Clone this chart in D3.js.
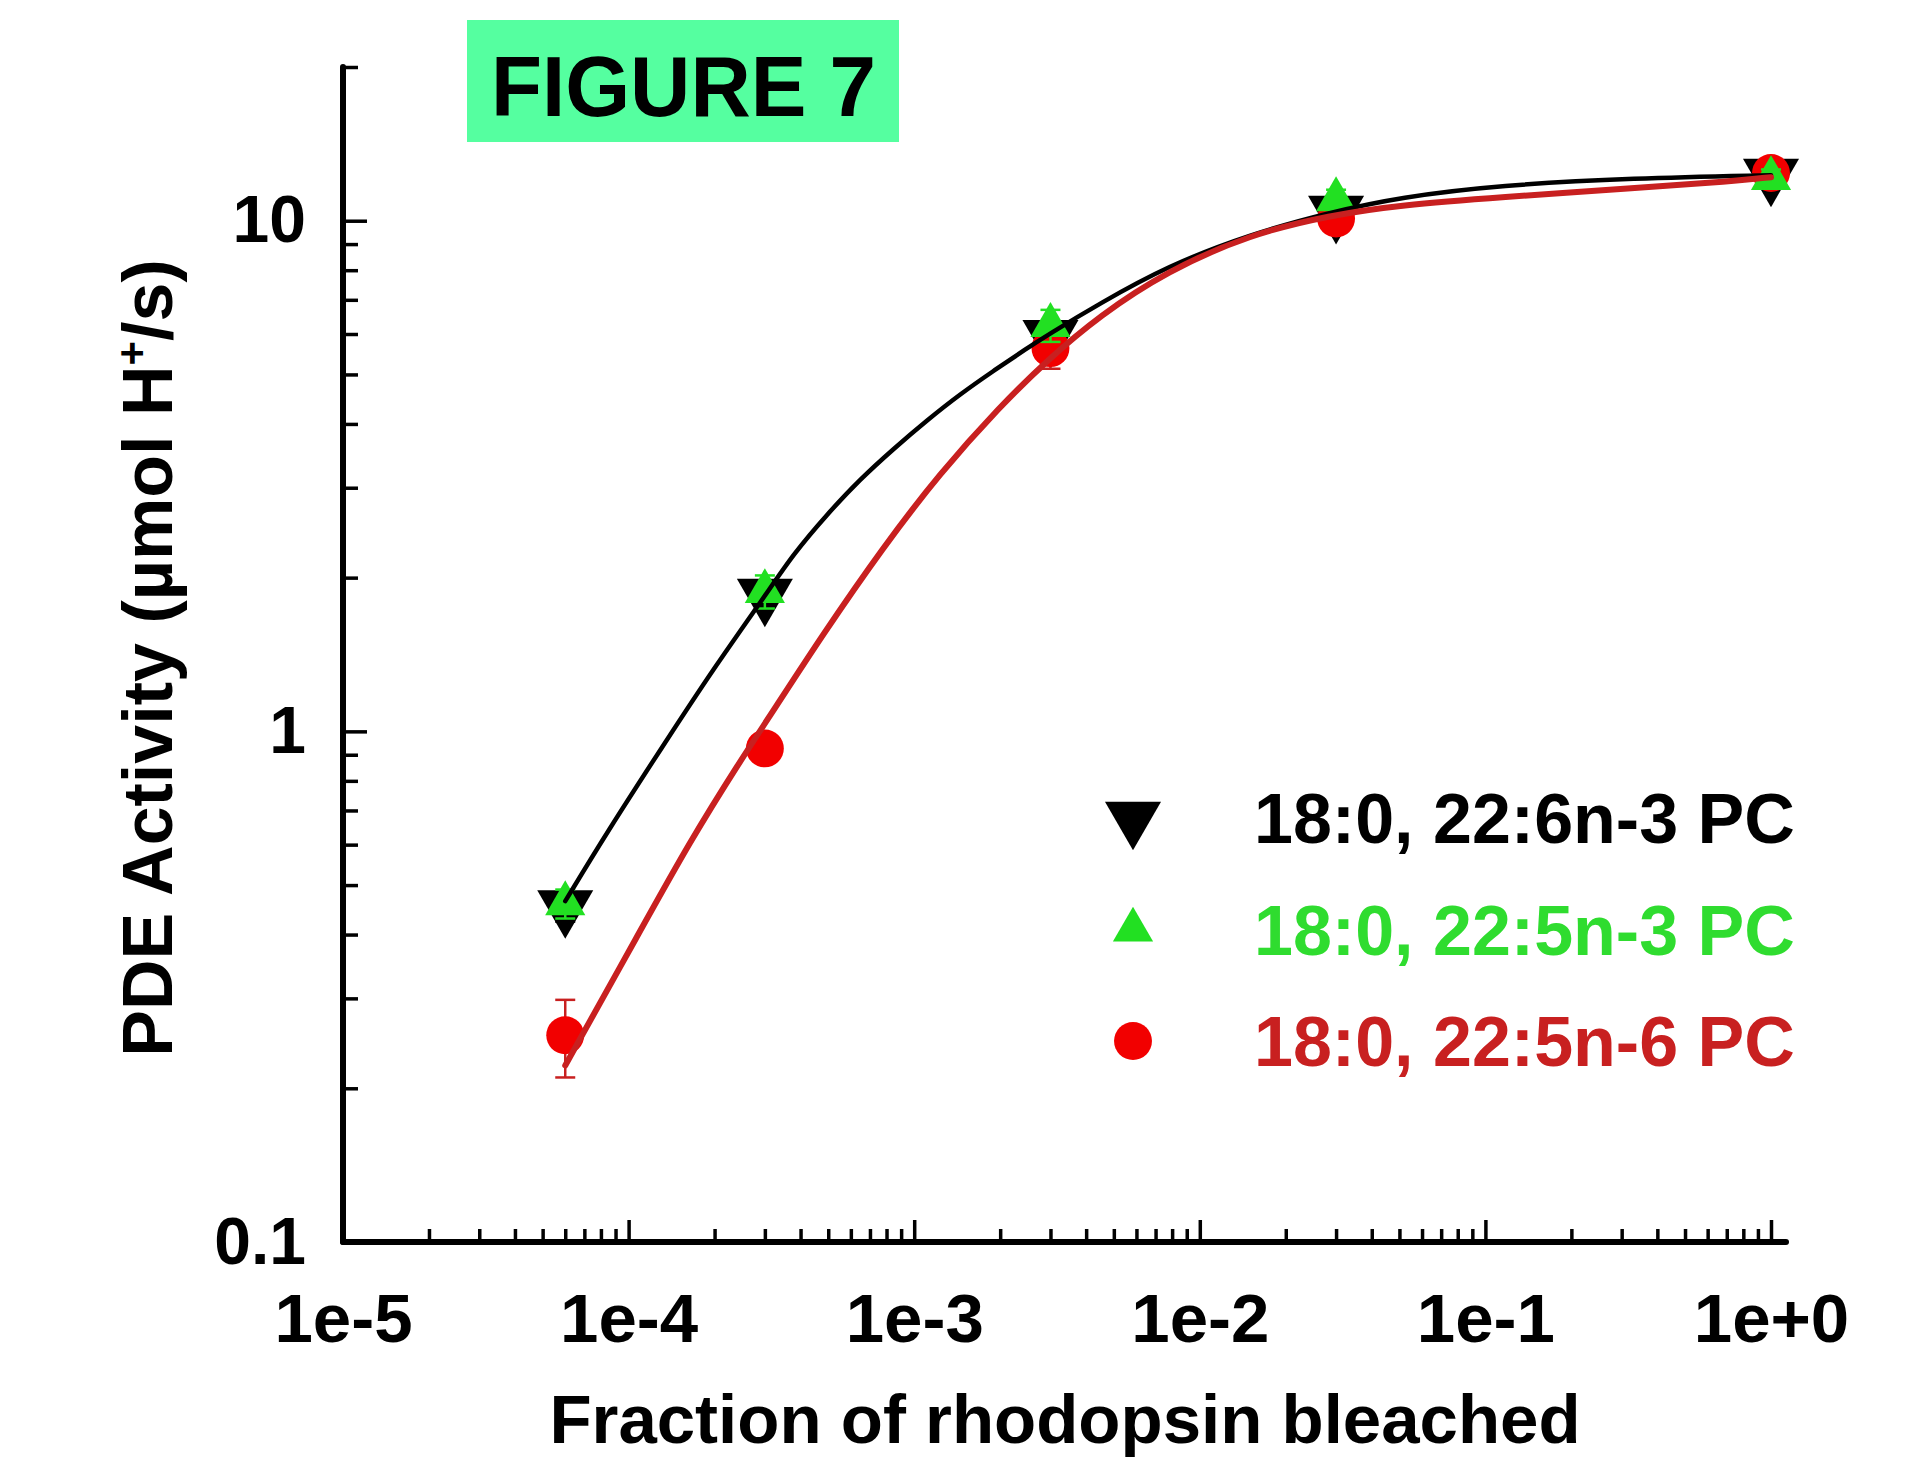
<!DOCTYPE html>
<html>
<head>
<meta charset="utf-8">
<script src="https://cdn.jsdelivr.net/npm/d3@7.9.0/dist/d3.min.js"></script>
<style>
  body { margin: 0; background: #fff; }
  svg { display: block; font-family: "Liberation Sans", Arial, sans-serif; font-weight: bold; }
</style>
</head>
<body>
<svg width="1925" height="1459"></svg>
<script>
// measured points (fraction bleached -> PDE activity)
const bleachFraction = [6e-5, 3e-4, 3e-3, 3e-2, 1];

const pc226n3 = [0.454, 1.85, 5.94, 10.4, 12.3];
const pc226n3Err = [0.03, 0.1, 0.3, 0.4, 0.4];
const pc225n3 = [0.46, 1.88, 6.24, 11.0, 12.1];
const pc225n3Err = [0.03, 0.14, 0.45, 0.5, 0.5];
const pc225n6 = [0.254, 0.926, 5.63, 10.1, 12.4];
const pc225n6Err = [0.044, 0.03, 0.5, 0.4, 0.3];

// fitted curves
const fitX226n3 = [6e-5, 8.39e-5, 1.36e-4, 1.97e-4, 3e-4, 3.764e-4, 4.952e-4, 6.458e-4, 8.427e-4,
  1.109e-3, 1.446e-3, 1.887e-3, 2.483e-3, 2.92e-3, 4.48e-3, 7.67e-3, 1.5e-2, 2.86e-2, 5.02e-2,
  0.1125, 0.329, 1];
const fitY226n3 = [0.465, 0.634, 0.962, 1.32, 1.84, 2.222, 2.661, 3.116, 3.568,
  4.067, 4.572, 5.073, 5.626, 5.967, 6.893, 8.145, 9.41, 10.39, 11.12,
  11.74, 12.12, 12.28];
const fitX225n6 = [6e-5, 1.096e-4, 1.64e-4, 2.455e-4, 3.2e-4, 4.79e-4, 7.78e-4, 1.23e-3, 2e-3, 2.92e-3,
  4.48e-3, 7.67e-3, 1.5e-2, 2.86e-2, 5.02e-2, 0.1125, 0.329, 0.736, 1];
const fitY225n6 = [0.2217, 0.4057, 0.6088, 0.8733, 1.094, 1.549, 2.293, 3.202, 4.331, 5.331,
  6.529, 7.962, 9.41, 10.25, 10.73, 11.12, 11.58, 11.95, 12.17];

// ticks
const xMajor = [1e-5, 1e-4, 1e-3, 1e-2, 1e-1, 1];
const xMajorLabels = ['1e-5', '1e-4', '1e-3', '1e-2', '1e-1', '1e+0'];
const yMajor = [0.1, 1, 10];
const yMajorLabels = ['0.1', '1', '10'];
const minorSteps = [2, 3, 4, 5, 6, 7, 8, 9];

const legendLabels = ['18:0, 22:6n-3 PC', '18:0, 22:5n-3 PC', '18:0, 22:5n-6 PC'];

const black = '#000000';
const green = '#22e022';
const greenText = '#2fdc2f';
const red = '#f20000';
const darkRed = '#c82020';

let svg = d3.select('svg');

let x = d3.scaleLog().domain([1e-5, 1]).range([343, 1771]);
let y = d3.scaleLog().domain([0.1, 20]).range([1242, 67]);

let xMinor = [];
xMajor.slice(0, -1).forEach((d) => minorSteps.forEach((m) => xMinor.push(d * m)));
let yMinor = [];
yMajor.slice(0, -1).forEach((d) => minorSteps.forEach((m) => yMinor.push(d * m)));
yMinor.push(20);

// title box
let title = svg.append('g');
title.append('rect')
  .attr('x', 467).attr('y', 20)
  .attr('width', 432).attr('height', 122)
  .attr('fill', '#55ffa0');
title.append('text')
  .attr('x', 491).attr('y', 116)
  .attr('font-size', 86)
  .attr('textLength', 385)
  .attr('lengthAdjust', 'spacingAndGlyphs')
  .text('FIGURE 7');

// axes (ticks point inward), minor and major in separate groups
let xBase = `translate(0,${y.range()[0]})`;
let yBase = `translate(${x.range()[0]},0)`;

svg.append('g').attr('transform', xBase)
  .call(d3.axisBottom(x).tickValues(xMinor).tickSize(-13).tickFormat(''));
let xAxisG = svg.append('g').attr('transform', xBase)
  .call(d3.axisBottom(x).tickValues(xMajor).tickSize(-22).tickPadding(51)
    .tickFormat((d, i) => xMajorLabels[i]));

svg.append('g').attr('transform', yBase)
  .call(d3.axisLeft(y).tickValues(yMinor).tickSize(-15).tickFormat(''));
let yAxisG = svg.append('g').attr('transform', yBase)
  .call(d3.axisLeft(y).tickValues(yMajor).tickSize(-24).tickPadding(37)
    .tickFormat((d, i) => yMajorLabels[i]));

svg.selectAll('.domain').remove();
svg.selectAll('.tick line').attr('stroke', '#000').attr('stroke-width', 3.5);
xAxisG.selectAll('text').attr('font-size', 69).attr('font-family', null).attr('fill', '#000');
yAxisG.selectAll('text').attr('font-size', 66).attr('font-family', null).attr('fill', '#000');

svg.append('line')
  .attr('x1', x.range()[0]).attr('x2', x.range()[1] + 15)
  .attr('y1', y.range()[0]).attr('y2', y.range()[0])
  .attr('stroke', '#000').attr('stroke-width', 6).attr('stroke-linecap', 'round');
svg.append('line')
  .attr('x1', x.range()[0]).attr('x2', x.range()[0])
  .attr('y1', y.range()[1]).attr('y2', y.range()[0])
  .attr('stroke', '#000').attr('stroke-width', 6).attr('stroke-linecap', 'round');

// axis titles
svg.append('text')
  .attr('x', 1065).attr('y', 1443)
  .attr('text-anchor', 'middle')
  .attr('font-size', 69)
  .text('Fraction of rhodopsin bleached');

let yTitle = svg.append('text')
  .attr('transform', 'translate(172,658) rotate(-90)')
  .attr('text-anchor', 'middle')
  .attr('font-size', 70);
yTitle.append('tspan').text('PDE Activity (µmol H');
yTitle.append('tspan').attr('font-size', 42).attr('dy', -26).text('+');
yTitle.append('tspan').attr('dy', 26).text('/s)');

// series
let series = [
  { values: pc226n3, err: pc226n3Err, symbol: d3.symbolTriangle, size: 1360, rotate: 180, fill: black, errColor: black },
  { values: pc225n6, err: pc225n6Err, symbol: d3.symbolCircle, size: 1130, rotate: 0, fill: red, errColor: darkRed },
  { values: pc225n3, err: pc225n3Err, symbol: d3.symbolTriangle, size: 700, rotate: 0, fill: green, errColor: green },
];

series.forEach((s) => {
  let g = svg.append('g');
  s.values.forEach((v, i) => {
    let cx = x(bleachFraction[i]);
    let top = y(v + s.err[i]);
    let bottom = y(v - s.err[i]);
    g.append('line').attr('x1', cx).attr('x2', cx).attr('y1', top).attr('y2', bottom)
      .attr('stroke', s.errColor).attr('stroke-width', 2.5);
    [top, bottom].forEach((cy) => {
      g.append('line').attr('x1', cx - 10).attr('x2', cx + 10).attr('y1', cy).attr('y2', cy)
        .attr('stroke', s.errColor).attr('stroke-width', 2.5);
    });
    g.append('path')
      .attr('d', d3.symbol().type(s.symbol).size(s.size)())
      .attr('transform', `translate(${cx},${y(v)}) rotate(${s.rotate})`)
      .attr('fill', s.fill);
  });
});

// fit lines on top of the markers
let line = d3.line()
  .x((d) => x(d[0]))
  .y((d) => y(d[1]))
  .curve(d3.curveBasis);

svg.append('path')
  .attr('d', line(d3.zip(fitX226n3, fitY226n3)))
  .attr('fill', 'none')
  .attr('stroke', black)
  .attr('stroke-width', 4.5)
  .attr('stroke-linecap', 'round');

svg.append('path')
  .attr('d', line(d3.zip(fitX225n6, fitY225n6)))
  .attr('fill', 'none')
  .attr('stroke', darkRed)
  .attr('stroke-width', 6)
  .attr('stroke-linecap', 'round');

// legend
let legendItems = [
  { symbol: d3.symbolTriangle, size: 1360, rotate: 180, fill: black, text: black },
  { symbol: d3.symbolTriangle, size: 700, rotate: 0, fill: green, text: greenText },
  { symbol: d3.symbolCircle, size: 1130, rotate: 0, fill: red, text: darkRed },
];
let legendRowY = [818, 930, 1041];

let legend = svg.append('g');
legendItems.forEach((d, i) => {
  legend.append('path')
    .attr('d', d3.symbol().type(d.symbol).size(d.size)())
    .attr('transform', `translate(1133,${legendRowY[i]}) rotate(${d.rotate})`)
    .attr('fill', d.fill);
  legend.append('text')
    .attr('x', 1254)
    .attr('y', legendRowY[i] + 25)
    .attr('font-size', 70)
    .attr('fill', d.text)
    .text(legendLabels[i]);
});
</script>
</body>
</html>
